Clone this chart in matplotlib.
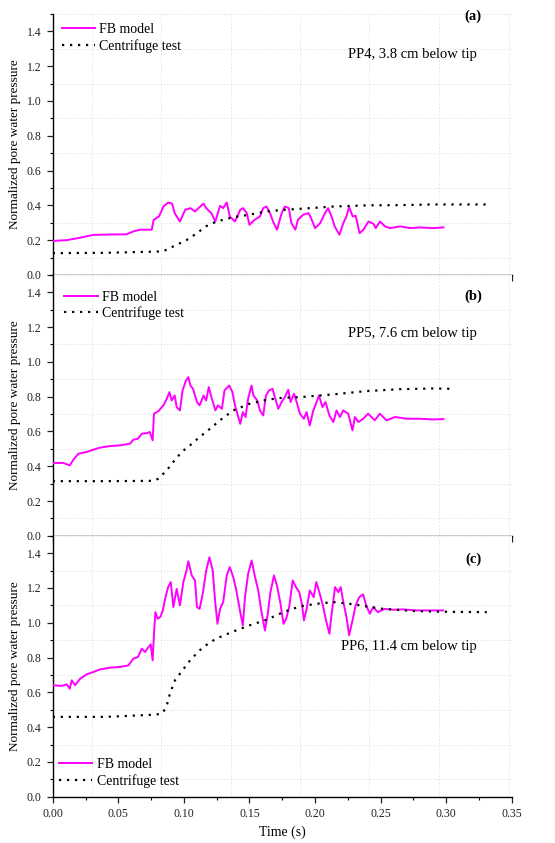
import matplotlib
matplotlib.use("Agg")
import matplotlib.pyplot as plt
from matplotlib.ticker import MultipleLocator, FormatStrFormatter

plt.rcParams['font.family'] = ['Liberation Serif', 'DejaVu Serif']
plt.rcParams['mathtext.fontset'] = 'stix'

# ---- panel (a): PP4 ----
t_a_fb = [0.0, 0.0107, 0.021, 0.031, 0.049, 0.056, 0.0615, 0.0666, 0.0755, 0.077,
          0.081, 0.0844, 0.088, 0.091, 0.093, 0.097, 0.101, 0.105, 0.1085, 0.112,
          0.115, 0.117, 0.121, 0.124, 0.1276, 0.13, 0.1327, 0.135, 0.139, 0.143,
          0.145, 0.148, 0.150, 0.154, 0.158, 0.1605, 0.163, 0.1657, 0.168, 0.171,
          0.1746, 0.177, 0.18, 0.182, 0.185, 0.187, 0.191, 0.195, 0.197, 0.200,
          0.204, 0.2076, 0.21, 0.213, 0.215, 0.2186, 0.2216, 0.224, 0.226, 0.2288,
          0.231, 0.234, 0.237, 0.2407, 0.2445, 0.2463, 0.2496, 0.2534, 0.2572, 0.265,
          0.2725, 0.28, 0.29, 0.298]
v_a_fb = [0.195, 0.20, 0.214, 0.23, 0.233, 0.233, 0.25, 0.26, 0.26, 0.317,
          0.336, 0.393, 0.416, 0.41, 0.355, 0.307, 0.374, 0.384, 0.365, 0.39,
          0.41, 0.384, 0.355, 0.307, 0.397, 0.384, 0.416, 0.336, 0.307, 0.374,
          0.384, 0.355, 0.288, 0.317, 0.336, 0.384, 0.393, 0.355, 0.307, 0.26,
          0.355, 0.393, 0.384, 0.298, 0.26, 0.317, 0.346, 0.355, 0.327, 0.269,
          0.298, 0.355, 0.384, 0.327, 0.279, 0.231, 0.298, 0.336, 0.39, 0.336,
          0.34, 0.24, 0.26, 0.307, 0.294, 0.269, 0.307, 0.279, 0.269, 0.279,
          0.269, 0.273, 0.269, 0.273]
t_a_ct = [0.0, 0.04, 0.084, 0.092, 0.102, 0.11, 0.117, 0.125, 0.1376, 0.150,
          0.163, 0.176, 0.1886, 0.214, 0.24, 0.265, 0.29, 0.332]
v_a_ct = [0.125, 0.127, 0.135, 0.164, 0.20, 0.24, 0.28, 0.307, 0.332, 0.346,
          0.365, 0.374, 0.38, 0.393, 0.40, 0.401, 0.405, 0.405]

# ---- panel (b): PP5 ----
t_b_fb = [0.0, 0.008, 0.013, 0.0158, 0.0196, 0.026, 0.031, 0.036, 0.0437, 0.0513,
          0.059, 0.0615, 0.065, 0.068, 0.0717, 0.074, 0.0762, 0.0772, 0.0806, 0.0844,
          0.087, 0.089, 0.0907, 0.093, 0.0945, 0.097, 0.099, 0.1016, 0.1034, 0.105,
          0.107, 0.11, 0.112, 0.115, 0.117, 0.119, 0.121, 0.124, 0.126, 0.129,
          0.131, 0.1346, 0.137, 0.139, 0.1415, 0.143, 0.145, 0.147, 0.149, 0.1516,
          0.153, 0.156, 0.158, 0.1605, 0.1626, 0.165, 0.1676, 0.1694, 0.172, 0.1745,
          0.177, 0.1796, 0.1814, 0.184, 0.186, 0.1885, 0.1915, 0.1936, 0.196, 0.1987,
          0.2007, 0.203, 0.2057, 0.208, 0.211, 0.214, 0.2164, 0.219, 0.2215, 0.2253,
          0.2286, 0.2304, 0.233, 0.2367, 0.2405, 0.243, 0.2456, 0.2494, 0.2545, 0.261,
          0.27, 0.28, 0.29, 0.298]
v_b_fb = [0.419, 0.419, 0.405, 0.438, 0.472, 0.482, 0.495, 0.507, 0.516, 0.52,
          0.53, 0.553, 0.558, 0.587, 0.59, 0.597, 0.549, 0.702, 0.717, 0.75,
          0.788, 0.826, 0.778, 0.807, 0.74, 0.721, 0.836, 0.893, 0.912, 0.864,
          0.845, 0.769, 0.75, 0.807, 0.778, 0.855, 0.797, 0.721, 0.75, 0.73,
          0.836, 0.864, 0.826, 0.75, 0.683, 0.644, 0.711, 0.683, 0.788, 0.864,
          0.807, 0.778, 0.721, 0.692, 0.807, 0.836, 0.845, 0.797, 0.73, 0.769,
          0.797, 0.84, 0.769, 0.817, 0.769, 0.702, 0.673, 0.711, 0.635, 0.721,
          0.759, 0.807, 0.74, 0.769, 0.692, 0.654, 0.721, 0.683, 0.721, 0.702,
          0.606, 0.683, 0.654, 0.673, 0.702, 0.683, 0.664, 0.702, 0.664, 0.683,
          0.673, 0.673, 0.669, 0.671]
t_b_ct = [0.0, 0.04, 0.077, 0.0806, 0.087, 0.092, 0.0983, 0.1047, 0.112, 0.12,
          0.1275, 0.1377, 0.150, 0.163, 0.1758, 0.1885, 0.201, 0.214, 0.239, 0.2647,
          0.29, 0.3053]
v_b_ct = [0.314, 0.314, 0.316, 0.329, 0.377, 0.425, 0.482, 0.52, 0.568, 0.616,
          0.664, 0.721, 0.759, 0.782, 0.794, 0.797, 0.805, 0.813, 0.832, 0.843,
          0.847, 0.845]

# ---- panel (c): PP6 ----
t_c_fb = [0.0, 0.0069, 0.0107, 0.013, 0.0145, 0.017, 0.021, 0.026, 0.031, 0.036,
          0.0437, 0.0513, 0.0577, 0.0615, 0.065, 0.068, 0.0704, 0.073, 0.0747, 0.0762,
          0.0772, 0.0783, 0.08, 0.082, 0.084, 0.0857, 0.088, 0.09, 0.092, 0.0945,
          0.097, 0.0996, 0.102, 0.1034, 0.106, 0.1085, 0.110, 0.112, 0.1144, 0.117,
          0.1195, 0.122, 0.1238, 0.1256, 0.1276, 0.130, 0.1327, 0.135, 0.1377, 0.140,
          0.143, 0.145, 0.1466, 0.149, 0.1517, 0.154, 0.1567, 0.159, 0.1618, 0.164,
          0.166, 0.1687, 0.171, 0.1737, 0.176, 0.178, 0.1803, 0.183, 0.1855, 0.188,
          0.19, 0.1916, 0.1936, 0.196, 0.199, 0.201, 0.2033, 0.206, 0.2084, 0.211,
          0.2127, 0.2153, 0.2178, 0.2196, 0.2216, 0.224, 0.226, 0.2286, 0.231, 0.2337,
          0.2367, 0.239, 0.2418, 0.2443, 0.248, 0.253, 0.2596, 0.267, 0.2775, 0.2877,
          0.2977]
v_c_fb = [0.641, 0.637, 0.646, 0.621, 0.669, 0.641, 0.679, 0.704, 0.717, 0.732,
          0.742, 0.746, 0.755, 0.794, 0.803, 0.851, 0.832, 0.861, 0.876, 0.784,
          0.937, 1.061, 1.023, 1.033, 1.071, 1.138, 1.205, 1.234, 1.09, 1.195,
          1.10, 1.234, 1.30, 1.354, 1.272, 1.243, 1.09, 1.08, 1.167, 1.30,
          1.377, 1.30, 1.128, 0.994, 1.08, 1.119, 1.272, 1.32, 1.262, 1.186,
          1.061, 0.985, 1.147, 1.281, 1.358, 1.272, 1.186, 1.071, 0.956, 1.052,
          1.176, 1.272, 1.214, 1.109, 0.994, 1.023, 1.09, 1.243, 1.205, 1.176,
          1.109, 1.014, 1.08, 1.186, 1.147, 1.234, 1.176, 1.10, 1.014, 0.937,
          1.052, 1.205, 1.176, 1.205, 1.119, 1.033, 0.928, 1.014, 1.10, 1.147,
          1.163, 1.10, 1.052, 1.09, 1.061, 1.08, 1.075, 1.077, 1.071, 1.071,
          1.071]
t_c_ct = [0.0, 0.04, 0.079, 0.084, 0.087, 0.0894, 0.0932, 0.098, 0.1047, 0.112,
          0.12, 0.1275, 0.1377, 0.150, 0.163, 0.1758, 0.1885, 0.201, 0.214, 0.2266,
          0.2393, 0.252, 0.2774, 0.3028, 0.331]
v_c_ct = [0.459, 0.459, 0.472, 0.482, 0.526, 0.593, 0.669, 0.717, 0.784, 0.841,
          0.889, 0.918, 0.95, 0.985, 1.017, 1.061, 1.094, 1.109, 1.119, 1.109,
          1.094, 1.08, 1.067, 1.063, 1.061]

panel_tags = ["(a)", "(b)", "(c)"]
probe_notes = ["PP4, 3.8 cm below tip", "PP5, 7.6 cm below tip", "PP6, 11.4 cm below tip"]

fb_series = [(t_a_fb, v_a_fb), (t_b_fb, v_b_fb), (t_c_fb, v_c_fb)]
ct_series = [(t_a_ct, v_a_ct), (t_b_ct, v_b_ct), (t_c_ct, v_c_ct)]

# odd vertical grid spacing taken from the original figure
grid_x = [0.0297, 0.0826, 0.1357, 0.1886, 0.2414, 0.2943, 0.3477]

# tag / note / legend placement per panel
tag_y = [1.488, 1.377, 1.364]
note_y = [1.266, 1.161, 0.865]
leg_loc = ["upper left", "upper left", "lower left"]
leg_anchor = [(0.02, 0.965), (0.025, 0.94), (0.014, 0.035)]

fig, axes = plt.subplots(3, 1, figsize=(5.55, 8.43), dpi=100, sharex=True,
                         gridspec_kw={'hspace': 0})
fig.subplots_adjust(left=0.095, right=0.922, top=0.9834, bottom=0.0549)

for i, ax in enumerate(axes):
    tf, vf = fb_series[i]
    tc, vc = ct_series[i]
    ax.plot(tf, vf, color='#ff00ff', lw=1.4, label='FB model', zorder=3)
    ax.plot(tc, vc, color='black', lw=1.6, linestyle=(0, (1, 2.6)),
            label='Centrifuge test', zorder=4)

    ax.set_xlim(0, 0.35)
    ax.set_ylim(0, 1.5)
    ax.xaxis.set_major_locator(MultipleLocator(0.05))
    ax.xaxis.set_minor_locator(MultipleLocator(0.025))
    ax.yaxis.set_major_locator(MultipleLocator(0.2))
    ax.yaxis.set_minor_locator(MultipleLocator(0.1))
    ax.xaxis.set_major_formatter(FormatStrFormatter('%.2f'))
    ax.yaxis.set_major_formatter(FormatStrFormatter('%.1f'))

    ax.spines['top'].set_visible(False)
    ax.spines['right'].set_visible(False)
    ax.spines['left'].set_linewidth(1.0)
    ax.spines['bottom'].set_linewidth(1.0)
    ax.tick_params(which='major', direction='out', length=4.5, width=0.9,
                   labelsize=8.5, colors='#222222')
    ax.tick_params(which='minor', direction='out', length=2.5, width=0.8)

    ax.grid(which='minor', axis='y', color='#e2e2e2', lw=0.6, linestyle=(0, (2, 2)))
    for gx in grid_x:
        ax.axvline(gx, color='#e2e2e2', lw=0.6, linestyle=(0, (2, 2)), zorder=0)

    ax.set_ylabel('Normalized pore water pressure', fontsize=9.5, labelpad=4)

    ax.text(0.3205, tag_y[i], panel_tags[i], fontsize=10.5, fontweight='bold',
            ha='center', va='center')
    ax.text(0.3235, note_y[i], probe_notes[i], fontsize=10.5, ha='right', va='center')

    ax.legend(loc=leg_loc[i], bbox_to_anchor=leg_anchor[i], frameon=False,
              fontsize=10, handlelength=2.4, handletextpad=0.3, labelspacing=0.2,
              borderpad=0, borderaxespad=0)

axes[2].set_xlabel('Time (s)', fontsize=10, labelpad=4)

plt.savefig('out.png', dpi=100)
